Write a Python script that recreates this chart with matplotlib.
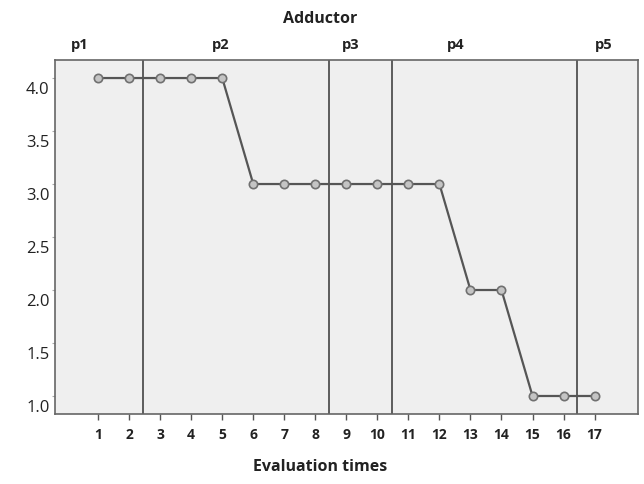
import matplotlib
matplotlib.use("Agg")
import matplotlib.pyplot as plt
import matplotlib.transforms as mtransforms

# Evaluation times and adductor scores
times = list(range(1, 18))
scores = [4, 4, 4, 4, 4, 3, 3, 3, 3, 3, 3, 3, 2, 2, 1, 1, 1]

# Period boundaries and period labels
boundaries = [2.45, 8.43, 10.47, 16.44]
period_names = ["p1", "p2", "p3", "p4", "p5"]
period_centers = [0.42, 4.94, 9.13, 12.52, 17.29]

y_ticks = [1.0, 1.5, 2.0, 2.5, 3.0, 3.5, 4.0]
y_tick_labels = ["1.0", "1.5", "2.0", "2.5", "3.0", "3.5", "4.0"]

plt.rcParams["font.family"] = ["Open Sans", "DejaVu Sans"]

fig = plt.figure(figsize=(6.44, 4.84), dpi=100)
ax = fig.add_axes([0.0854, 0.1446, 0.9053, 0.7314])
ax.set_facecolor("#efefef")

ax.plot(times, scores, color="#555555", lw=1.6, marker="o", ms=6,
        mfc="#c4c4c4", mec="#707070", mew=1.2, zorder=3)

for b in boundaries:
    ax.axvline(b, color="#444444", lw=1.2, zorder=2)

ax.set_xlim(-0.39, 18.4)
ax.set_ylim(0.83, 4.17)

ax.set_xticks(times)
ax.set_xticklabels([str(t) for t in times], fontsize=10, fontweight="bold",
                   color="#222222")
ax.tick_params(axis="x", direction="out", length=4, width=1, color="#555555", pad=6)

ax.set_yticks(y_ticks)
ax.set_yticklabels(y_tick_labels, fontsize=12, color="#222222")
ax.tick_params(axis="y", direction="out", length=2, width=0.8, color="#aaaaaa", pad=2)
shift = mtransforms.ScaledTranslation(0, -10 / 100, fig.dpi_scale_trans)
for lbl in ax.get_yticklabels():
    lbl.set_transform(lbl.get_transform() + shift)

for s in ax.spines.values():
    s.set_color("#666666")
    s.set_linewidth(1.2)

# Period labels a little above the top spine
above = mtransforms.ScaledTranslation(0, 0.08, fig.dpi_scale_trans)
for name, cx in zip(period_names, period_centers):
    ax.text(cx, 1.0, name, transform=ax.get_xaxis_transform() + above,
            ha="center", va="bottom", fontsize=10.5, fontweight="bold",
            color="#222222", clip_on=False)

fig.text(0.497, 0.96, "Adductor", ha="center", va="center", fontsize=11.5,
         fontweight="bold", color="#222222")
fig.text(0.497, 0.035, "Evaluation times", ha="center", va="center",
         fontsize=11.5, fontweight="bold", color="#222222")

fig.savefig("out.png", dpi=100, facecolor="white")
